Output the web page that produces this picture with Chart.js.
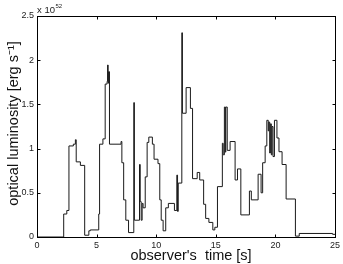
<!DOCTYPE html>
<html><head><meta charset="utf-8">
<script src="https://cdn.jsdelivr.net/npm/chart.js@4/dist/chart.umd.min.js"></script>
<style>html,body{margin:0;padding:0;background:#fff}#wrap{width:343px;height:264px}</style>
</head><body><div id="wrap"><canvas id="c" width="343" height="264"></canvas></div>
<script>
// observer's time [s] at which each level starts
const times = [0,2.24,2.5,2.68,3.05,3.22,3.29,3.64,4.0,4.35,4.47,5.18,5.25,5.53,5.72,5.88,5.92,5.97,6.01,6.08,
  7.05,7.12,7.27,7.45,7.68,8.12,8.17,8.6,8.66,8.74,8.82,8.9,9.08,9.24,9.38,9.68,9.82,10.15,10.3,10.42,10.58,10.8,11.02,
  11.53,11.73,11.79,11.85,12.15,12.2,12.51,12.87,13.05,13.44,13.65,13.98,14.15,14.42,14.75,14.92,15.14,15.55,15.62,
  15.72,15.8,15.84,15.96,16.2,16.62,16.82,17.1,17.82,17.98,18.55,18.8,18.93,19.14,19.28,19.4,19.45,19.52,19.58,19.66,
  19.72,19.8,19.92,20.13,20.3,20.56,20.9,21.68,22.0,24.8,25];
// optical luminosity [x 10^52 erg/s]
const lum = [0,0.26,0.30,1.03,1.05,1.10,0.85,0.81,0.02,0.07,0.08,0.26,1.05,1.11,1.73,1.76,1.945,1.74,1.87,1.05,
  1.08,0.84,0.42,0.19,0.05,1.52,0.19,0.82,0.40,0.19,0.38,0.33,0.68,1.07,1.13,1.05,0.88,0.83,0.42,0.19,0.07,0.33,0.38,
  0.30,0.70,0.29,0.61,2.31,1.40,1.69,1.455,0.66,0.73,0.645,0.37,0.21,0.165,0.08,0.11,0.57,1.06,0.93,
  1.47,0.96,1.47,0.98,1.08,0.645,0.77,0.25,0.52,0.42,0.71,0.50,0.84,1.03,1.32,1.2,1.3,0.95,1.28,0.93,
  1.25,0.91,1.32,1.12,0.965,0.82,0.43,0.01,0.04,0.03,0.03];
const xTicks = [0,5,10,15,20,25];
const yTicks = [0,0.5,1,1.5,2,2.5];
const xTitle = "observer's  time [s]";
const yTitle = "optical luminosity [erg s\u207B\u00B9]";
const expBase = "x 10";
const exponent = "52";

const FONT = '"Liberation Sans", Arial, Helvetica, sans-serif';

const framePlugin = {
  id: 'frame',
  afterDraw(chart) {
    const {ctx, chartArea: a, scales: {x, y}} = chart;
    ctx.save();
    ctx.strokeStyle = '#000';
    ctx.lineWidth = 1;
    const l = Math.round(a.left) + 0.5, r = Math.round(a.right) + 0.5;
    const t = Math.round(a.top) + 0.5, b = Math.round(a.bottom) + 0.5;
    ctx.strokeRect(l, t, r - l, b - t);
    const L = 3;
    ctx.beginPath();
    xTicks.forEach(v => {
      const px = Math.round(x.getPixelForValue(v)) + 0.5;
      ctx.moveTo(px, b); ctx.lineTo(px, b - L);
      ctx.moveTo(px, t); ctx.lineTo(px, t + L);
    });
    yTicks.forEach(v => {
      const py = Math.round(y.getPixelForValue(v)) + 0.5;
      ctx.moveTo(l, py); ctx.lineTo(l + L, py);
      ctx.moveTo(r, py); ctx.lineTo(r - L, py);
    });
    ctx.stroke();
    ctx.fillStyle = '#222';
    ctx.textAlign = 'left';
    ctx.textBaseline = 'alphabetic';
    ctx.font = '9.5px ' + FONT;
    ctx.fillText(expBase, a.left, a.top - 3);
    const w = ctx.measureText(expBase).width;
    ctx.font = '6px ' + FONT;
    ctx.fillText(exponent, a.left + w + 0.5, a.top - 8);
    // axis titles
    ctx.fillStyle = '#111';
    ctx.font = '14.5px ' + FONT;
    ctx.textAlign = 'center';
    ctx.textBaseline = 'middle';
    ctx.fillText(xTitle, (a.left + a.right) / 2 + 5, 255.5);
    ctx.translate(14, (a.top + a.bottom) / 2 - 3);
    ctx.rotate(-Math.PI / 2);
    ctx.fillText(yTitle, 0, 0);
    ctx.restore();
  }
};

new Chart(document.getElementById('c'), {
  type: 'line',
  data: {
    datasets: [{
      data: times.map((t, i) => ({x: t, y: lum[i]})),
      stepped: 'before',
      borderColor: '#1a1a1a',
      borderWidth: 1,
      pointRadius: 0,
      fill: false
    }]
  },
  options: {
    responsive: false,
    animation: false,
    devicePixelRatio: 1,
    layout: {padding: {top: 16, right: 7, left: 0, bottom: 0}},
    plugins: {legend: {display: false}, tooltip: {enabled: false}},
    scales: {
      x: {
        type: 'linear', min: 0, max: 25,
        afterFit: s => { s.height = 27; },
        afterBuildTicks: s => { s.ticks = xTicks.map(v => ({value: v})); },
        grid: {display: false, drawTicks: false, tickLength: 0},
        border: {display: false},
        ticks: {font: {size: 9, family: FONT}, color: '#222', padding: 3, maxRotation: 0, callback: v => String(v)}
      },
      y: {
        type: 'linear', min: 0, max: 2.5,
        afterFit: s => { s.width = 37; },
        afterBuildTicks: s => { s.ticks = yTicks.map(v => ({value: v})); },
        grid: {display: false, drawTicks: false, tickLength: 0},
        border: {display: false},
        ticks: {font: {size: 9, family: FONT}, color: '#222', padding: 3, callback: v => String(v)}
      }
    }
  },
  plugins: [framePlugin]
});
</script>
</body></html>
